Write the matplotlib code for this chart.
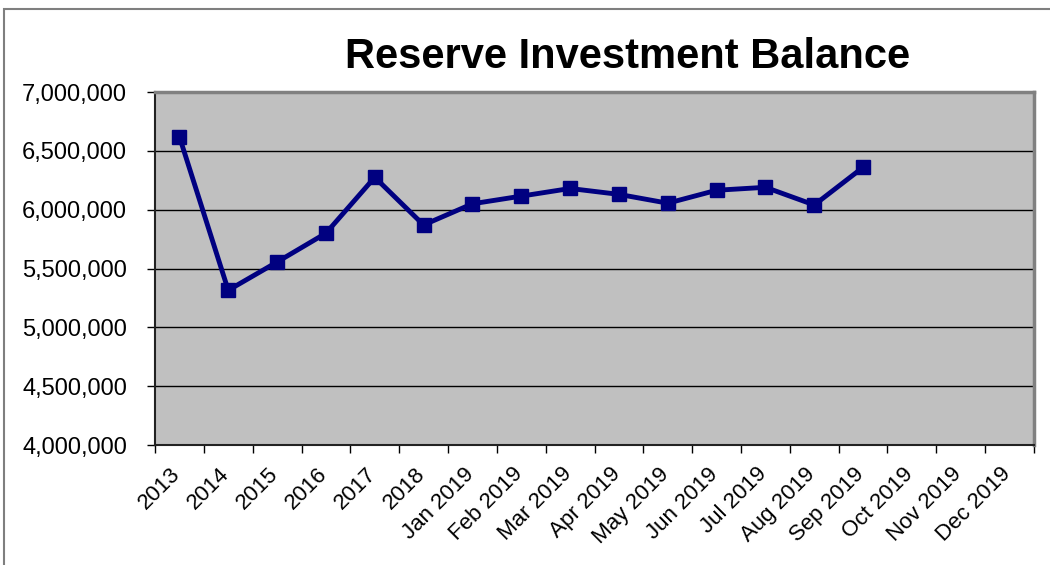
import matplotlib
matplotlib.use("Agg")
import matplotlib.pyplot as plt
from matplotlib.patches import Rectangle
from matplotlib.ticker import FuncFormatter, FixedLocator
from matplotlib.transforms import ScaledTranslation

categories = ["2013", "2014", "2015", "2016", "2017", "2018",
              "Jan 2019", "Feb 2019", "Mar 2019", "Apr 2019", "May 2019",
              "Jun 2019", "Jul 2019", "Aug 2019", "Sep 2019", "Oct 2019",
              "Nov 2019", "Dec 2019"]
balance = [6620000, 5315000, 5555000, 5800000, 6275000, 5870000,
           6050000, 6115000, 6180000, 6130000, 6055000,
           6165000, 6190000, 6040000, 6360000]
y_ticks = [4000000, 4500000, 5000000, 5500000, 6000000, 6500000, 7000000]

plt.rcParams['font.family'] = ['Liberation Sans', 'DejaVu Sans']

W, H = 1050, 565
fig = plt.figure(figsize=(W / 100, H / 100), dpi=100)
fig.patch.set_facecolor('white')

# figure border (extends beyond the image on right/bottom)
fig.patches.append(Rectangle((4 / W, -0.05), 1.2, 1 - 9 / H + 0.05,
                             transform=fig.transFigure, fill=False,
                             edgecolor='#7f7f7f', linewidth=1.5))

ax = fig.add_axes([155 / W, 1 - 445 / H, (1034 - 155) / W, (445 - 92) / H])
ax.set_facecolor('#C0C0C0')

x = list(range(len(balance)))
ax.plot(x, balance, color='#000080', linewidth=3.5, marker='s',
        markersize=10.5, markerfacecolor='#000080', markeredgecolor='#000080',
        zorder=3, clip_on=False)

ax.set_xlim(-0.5, len(categories) - 0.5)
ax.set_ylim(4000000, 7000000)

ax.set_yticks(y_ticks)
ax.yaxis.set_major_formatter(FuncFormatter(lambda v, p: f"{int(v):,}"))
ax.tick_params(axis='y', length=6, width=1, color='black', pad=14,
               labelsize=17)
ax.grid(axis='y', color='black', linewidth=1)
ax.set_axisbelow(True)

# ticks at category boundaries, labels at centers
ax.xaxis.set_major_locator(FixedLocator([i - 0.5 for i in range(len(categories) + 1)]))
ax.xaxis.set_major_formatter(FuncFormatter(lambda v, p: ""))
ax.set_xticks(list(range(len(categories))), minor=True)
ax.set_xticklabels(categories, minor=True, rotation=45, ha='right',
                   va='baseline', rotation_mode='anchor', fontsize=16)
ax.tick_params(axis='x', which='major', length=6, width=1, color='black')
ax.tick_params(axis='x', which='minor', length=0, pad=21.5)
for lab in ax.get_xticklabels(minor=True):
    lab.set_transform(lab.get_transform() +
                      ScaledTranslation(2 / 100, 0, fig.dpi_scale_trans))

for s in ['left', 'bottom']:
    ax.spines[s].set_color('#222222')
    ax.spines[s].set_linewidth(1.5)
for s in ['right', 'top']:
    ax.spines[s].set_color('#808080')
    ax.spines[s].set_linewidth(2.5)

fig.text(628 / W, 1 - 68 / H, "Reserve Investment Balance", ha='center',
         va='baseline', fontsize=30, fontweight='bold')

fig.savefig('out.png', dpi=100)
